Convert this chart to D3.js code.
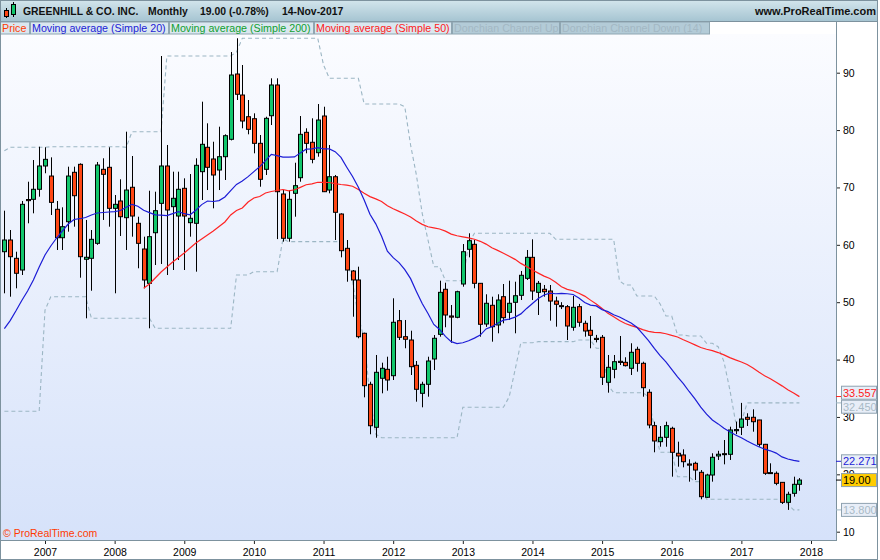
<!DOCTYPE html>
<html><head><meta charset="utf-8">
<script src="https://cdn.jsdelivr.net/npm/d3@7"></script>
<style>body{margin:0;background:#fff}svg{display:block;font-family:"Liberation Sans",Arial,sans-serif}</style>
</head><body><svg id="c" width="880" height="560"></svg>
<script>
// Monthly candles, first candle = June 2006, last = Nov 2017
const firstYear = 2006, firstMonth = 6;
const opens = [58.80,60.84,57.65,55.61,67.90,67.93,69.68,73.74,71.99,66.19,61.24,64.03,72.64,74.03,57.48,57.65,60.26,73.16,73.51,66.36,
67.64,64.73,70.03,63.75,59.27,53.29,62.11,67.23,73.74,66.65,65.02,69.85,63.86,63.75,72.75,77.00,74.96,73.04,75.36,78.39,
89.77,86.11,82.33,81.98,77.69,73.16,82.50,87.86,68.86,61.14,68.98,71.70,79.61,77.87,76.06,82.45,69.55,71.87,65.37,59.39,
55.44,53.87,44.58,35.69,28.20,36.74,38.30,37.19,46.78,43.99,43.41,39.00,34.12,35.69,40.10,44.40,52.25,47.60,47.37,53.17,
59.22,60.09,53.29,46.20,49.46,46.03,50.96,48.24,49.98,51.20,54.16,57.82,51.72,52.25,51.95,50.20,49.40,49.22,45.63,49.22,
46.32,45.10,43.70,43.88,36.04,38.30,39.70,39.52,38.48,41.79,39.35,34.30,28.48,25.69,26.45,28.02,23.67,23.37,21.80,21.92,
20.35,16.00,19.88,23.20,23.60,23.49,27.60,28.20,29.94,29.94,29.47,25.23,20.30,20.18,18.60,15.12,16.69,18.26];
const highs = [65.95,62.58,58.80,67.64,71.00,74.78,77.10,77.00,75.25,67.64,66.54,73.62,73.62,74.20,64.33,62.58,74.44,75.08,77.00,68.68,
71.42,79.72,75.48,64.90,61.42,69.43,69.26,92.91,77.40,72.75,72.75,71.59,72.34,75.08,84.95,81.18,77.97,80.59,79.26,93.60,
96.00,91.34,85.24,82.92,79.14,82.33,89.02,89.02,69.55,69.55,74.31,82.45,80.31,82.05,84.54,84.07,77.40,72.17,65.49,60.84,
55.61,56.19,44.69,36.14,40.80,39.46,40.50,50.68,48.64,46.90,45.03,39.75,36.14,40.50,44.28,53.75,53.40,49.51,52.00,60.14,
62.01,60.84,53.30,51.38,50.96,51.38,53.17,53.75,53.57,55.44,59.10,60.96,53.70,53.00,53.00,50.96,50.00,49.51,51.08,49.70,
46.78,47.60,44.30,44.28,40.80,40.80,44.11,40.40,42.84,42.24,39.63,34.82,29.17,28.42,29.17,28.30,25.69,24.36,22.62,22.20,
20.75,20.10,23.67,24.10,25.98,28.30,29.17,32.45,30.64,31.33,29.50,25.30,21.92,20.50,18.60,16.97,19.59,19.35];
const lows = [51.55,50.96,52.42,54.74,63.75,65.49,68.39,72.47,65.20,59.10,59.10,62.29,63.16,54.27,47.19,52.00,60.00,64.33,63.16,51.55,
61.54,59.10,61.42,55.91,52.42,45.45,56.48,56.66,54.74,55.61,57.35,55.61,61.42,55.32,67.81,69.55,66.36,69.55,71.30,78.20,
85.24,80.31,79.26,75.95,70.13,72.17,80.88,61.00,60.55,60.55,64.90,71.00,75.95,74.21,75.36,69.20,68.98,60.84,57.82,53.57,
47.47,43.71,33.42,26.98,26.38,34.12,34.58,36.44,43.41,41.97,37.31,32.66,31.68,33.53,38.18,43.99,45.63,42.94,47.20,52.70,
57.82,52.42,43.99,45.70,43.12,44.58,46.32,46.90,44.58,50.38,53.87,50.38,47.77,50.96,46.78,45.73,48.80,43.41,45.03,45.73,
43.99,41.97,43.00,35.57,34.23,36.74,39.05,38.80,37.31,37.89,33.53,28.02,23.84,24.81,24.81,19.59,21.33,21.22,18.72,19.00,
15.65,15.90,18.72,22.50,21.74,22.50,27.00,26.85,28.42,27.43,24.81,19.90,20.10,18.10,14.83,13.80,16.10,17.14];
const closes = [60.84,57.93,55.04,67.06,67.70,69.68,73.74,74.90,67.40,61.24,63.16,71.99,68.56,57.93,57.83,60.96,73.91,72.29,66.36,67.06,
64.90,69.55,65.02,60.26,53.87,61.42,65.95,73.74,66.07,68.11,69.68,65.02,64.62,73.86,77.52,73.51,72.17,75.36,79.02,89.60,
86.24,81.58,80.13,77.69,71.42,82.05,87.86,69.26,61.14,67.93,70.31,79.26,77.69,74.90,81.75,69.26,71.87,65.67,58.98,55.61,
53.87,43.99,35.45,28.47,37.78,38.48,36.44,46.50,43.88,43.54,38.76,34.82,35.69,39.75,43.71,51.72,47.77,47.40,51.83,58.80,
60.72,53.29,46.15,49.81,45.73,50.38,47.30,49.81,51.13,54.69,57.82,51.95,53.29,51.83,50.20,49.64,49.30,45.85,49.11,46.50,
44.98,44.23,43.50,36.91,38.65,39.63,39.50,38.94,41.27,39.35,35.10,28.60,25.81,26.45,28.48,23.84,23.20,22.20,21.60,20.75,
16.10,19.88,22.97,23.50,23.50,27.73,27.80,29.64,29.59,29.17,25.23,20.18,20.20,18.43,15.12,16.52,18.26,19.00];
const ma20Early = [45.40,46.80,48.50,50.30,51.95,53.87,56.14,58.23,59.80,61.19,62.41,63.63,64.41,64.55,64.76,65.20,65.55,65.63,65.72];
const ma50Start = 24;
const ma50Early = [52.42,53.17,54.22,55.26,56.14,57.00,57.79,58.58,59.45,60.32,61.02,61.71,62.41,63.19,63.98,65.20,65.98,66.42,67.46,68.16,68.42,69.03,69.29,69.47,69.64];
const donPeriod = 14;
const donUpEarly = [76.4,77.0,77.0,77.0,77.0,77.0,77.0,77.0,77.1,77.1,77.1,77.1,77.1,77.1];
const donDnEarly = [31.0,31.0,31.0,31.0,31.0,31.0,31.0,48.6,50.96,50.96,50.96,50.96,50.96,50.96];
const yTicks = [10,20,30,40,50,60,70,80,90];
const yearTicks = [2007,2008,2009,2010,2011,2012,2013,2014,2015,2016,2017,2018];
const lastValues = [33.557, 32.450, 22.271, 19.00, 13.800];
const lastTexts = ["33.557","32.450","22.271","19.00","13.800"];
const legendItems = ["Price","Moving average (Simple 20)","Moving average (Simple 200)","Moving average (Simple 50)","Donchian Channel Up","Donchian Channel Down (14)"];
const headerItems = ["GREENHILL & CO. INC.","Monthly","19.00 (-0.78%)","14-Nov-2017"];

// ---------- layout ----------
const W=880,H=560, plotL=0, plotR=836, plotT=34, plotB=540;
const svg=d3.select("#c");
const defs=svg.append("defs");
const g1=defs.append("linearGradient").attr("id","plotBg").attr("x1",0).attr("y1",0).attr("x2",0).attr("y2",1);
g1.append("stop").attr("offset","0").attr("stop-color","#fbfcff");
g1.append("stop").attr("offset","1").attr("stop-color","#d6e2fa");
const g2=defs.append("linearGradient").attr("id","hdrBg").attr("x1",0).attr("y1",0).attr("x2",0).attr("y2",1);
g2.append("stop").attr("offset","0").attr("stop-color","#d3e5ec");
g2.append("stop").attr("offset","1").attr("stop-color","#a6c5d2");
defs.append("clipPath").attr("id","clip").append("rect").attr("x",plotL).attr("y",plotT).attr("width",plotR-plotL).attr("height",plotB-plotT);

svg.append("rect").attr("width",W).attr("height",H).attr("fill","#fff");
svg.append("rect").attr("x",plotL).attr("y",plotT).attr("width",plotR-plotL).attr("height",plotB-plotT).attr("fill","url(#plotBg)");

const x=d3.scaleLinear().domain([7,139]).range([45,811]);
const y=d3.scaleLinear().domain([10,90]).range([531.7,72.7]);
const idx=d3.range(closes.length);

// indicators
const ma20=idx.map(i=> i<19 ? ma20Early[i] : d3.mean(closes.slice(i-19,i+1)));
const ma50=idx.map(i=> i<ma50Start ? null : (i<49 ? ma50Early[i-ma50Start] : d3.mean(closes.slice(i-49,i+1))));
const donUp=idx.map(i=> i<donPeriod ? donUpEarly[i] : d3.max(highs.slice(i-donPeriod,i)));
const donDn=idx.map(i=> i<donPeriod ? donDnEarly[i] : d3.min(lows.slice(i-donPeriod,i)));

const plot=svg.append("g").attr("clip-path","url(#clip)");
const line=d3.line().defined(d=>d[1]!=null).x(d=>x(d[0])).y(d=>y(d[1]));
plot.append("path").attr("d",line(idx.map(i=>[i,donUp[i]]))).attr("fill","none").attr("stroke","#9cb6c4").attr("stroke-width",1.1).attr("stroke-dasharray","4,3");
plot.append("path").attr("d",line(idx.map(i=>[i,donDn[i]]))).attr("fill","none").attr("stroke","#9cb6c4").attr("stroke-width",1.1).attr("stroke-dasharray","4,3");

// candles
const cg=plot.append("g");
idx.forEach(i=>{
  const cx=Math.round(x(i));
  cg.append("line").attr("x1",cx+0.5).attr("x2",cx+0.5).attr("y1",y(highs[i])).attr("y2",y(lows[i])).attr("stroke","#000").attr("stroke-width",1);
  const top=y(Math.max(opens[i],closes[i])), bot=y(Math.min(opens[i],closes[i]));
  const up=closes[i]>=opens[i];
  cg.append("rect").attr("x",cx-1.5).attr("y",top).attr("width",4).attr("height",Math.max(1,bot-top))
    .attr("fill",up?"#12c66c":"#ff4714").attr("stroke","#000").attr("stroke-width",1);
});
plot.append("path").attr("d",line(idx.map(i=>[i,ma50[i]]))).attr("fill","none").attr("stroke","#ff2424").attr("stroke-width",1.2);
plot.append("path").attr("d",line(idx.map(i=>[i,ma20[i]]))).attr("fill","none").attr("stroke","#1c1cd6").attr("stroke-width",1.2);

svg.append("text").attr("x",3).attr("y",537).attr("font-size","10.5px").attr("fill","#ff3b00").text("\u00a9 ProRealTime.com");

// right axis
const ya=svg.append("g").attr("transform",`translate(${plotR},0)`)
  .call(d3.axisRight(y).tickValues(yTicks).tickSize(4).tickPadding(3).tickFormat(d3.format("d")));
ya.select(".domain").remove();
ya.selectAll("line").attr("stroke","#222");
ya.selectAll("text").attr("font-size","10.5px").attr("fill","#000").attr("font-family","Liberation Sans, Arial, sans-serif");
svg.append("line").attr("x1",plotR+0.5).attr("x2",plotR+0.5).attr("y1",plotT).attr("y2",plotB).attr("stroke","#7d929e");

// bottom axis
const xa=svg.append("g").attr("transform",`translate(0,${plotB})`)
  .call(d3.axisBottom(x).tickValues(yearTicks.map(yr=>(yr-firstYear)*12-(firstMonth-1))).tickSize(4).tickPadding(5)
  .tickFormat(v=>String(firstYear+Math.floor((v+firstMonth-1)/12))));
xa.select(".domain").remove();
xa.selectAll("line").attr("stroke","#222");
xa.selectAll("text").attr("font-size","10.5px").attr("fill","#000").attr("font-family","Liberation Sans, Arial, sans-serif");
svg.append("line").attr("x1",0).attr("x2",plotR+1).attr("y1",plotB+0.5).attr("y2",plotB+0.5).attr("stroke","#7d929e");

// last-value labels
const lblFill=["#e8eef8","#e8eef8","#e8eef8","#ffcc00","#e8eef8"];
const lblText=["#ff1a1a","#a8bac6","#1c1cd6","#000","#a8bac6"];
const tickCol=["#ff2424","#9cb6c4","#1c1cd6","#000","#9cb6c4"];
let ly=lastValues.map(v=>y(v));
for(let k=0;k<4;k++){const gap=ly[k+1]-ly[k]; if(gap<14){const s=(14-gap)/2; ly[k]-=s; ly[k+1]+=s;}}
lastValues.forEach((v,k)=>{
  svg.append("line").attr("x1",plotR).attr("x2",plotR+5).attr("y1",y(v)).attr("y2",y(v)).attr("stroke",tickCol[k]);
  svg.append("rect").attr("x",841.5).attr("y",ly[k]-6.5).attr("width",35).attr("height",13).attr("fill",lblFill[k]).attr("stroke","#8fa2b0");
  svg.append("text").attr("x",843).attr("y",ly[k]+4).attr("font-size","11px").attr("fill",lblText[k]).text(lastTexts[k]);
});

// header
svg.append("rect").attr("x",0).attr("y",0).attr("width",878).attr("height",21).attr("fill","url(#hdrBg)");
svg.append("line").attr("x1",0).attr("x2",878).attr("y1",21.5).attr("y2",21.5).attr("stroke","#7d929e");
// icon
svg.append("line").attr("x1",6.5).attr("x2",6.5).attr("y1",8).attr("y2",18).attr("stroke","#000");
svg.append("rect").attr("x",4.5).attr("y",10.5).attr("width",4).attr("height",6).attr("fill","#ff4714").attr("stroke","#000");
svg.append("line").attr("x1",13.5).attr("x2",13.5).attr("y1",2).attr("y2",17).attr("stroke","#000");
svg.append("rect").attr("x",11.5).attr("y",4.5).attr("width",4).attr("height",10).attr("fill","#12c66c").attr("stroke","#000");
const hdrX=[23,148,200,282];
headerItems.forEach((t,k)=>svg.append("text").attr("x",hdrX[k]).attr("y",15).attr("font-size","10.4px").attr("font-weight","bold").attr("fill","#111").text(t));
svg.append("text").attr("x",876).attr("y",15).attr("text-anchor","end").attr("font-size","11px").attr("font-weight","bold").attr("fill","#111").text("www.ProRealTime.com");

// legend row
const legX=[0,30,169,314,452,560,710];
const legCol=["#ff3b00","#1c1cd6","#10a030","#ff1a1a","#a3b8c4","#a3b8c4"];
const legBg=["#dae7ef","#dae7ef","#dae7ef","#dae7ef","#b3cbd7","#b3cbd7"];
legendItems.forEach((t,k)=>{
  svg.append("rect").attr("x",legX[k]+0.5).attr("y",22).attr("width",legX[k+1]-legX[k]-1).attr("height",12).attr("fill",legBg[k]).attr("stroke","#8fa6b2");
  svg.append("text").attr("x",legX[k]+2).attr("y",31.5).attr("font-size","10.7px").attr("fill",legCol[k]).text(t);
});
svg.append("line").attr("x1",plotR+0.5).attr("x2",plotR+0.5).attr("y1",22).attr("y2",34).attr("stroke","#7d929e");
// outer frame
svg.append("rect").attr("x",0.5).attr("y",0.5).attr("width",877).attr("height",559).attr("fill","none").attr("stroke","#7d929e");
</script></body></html>
